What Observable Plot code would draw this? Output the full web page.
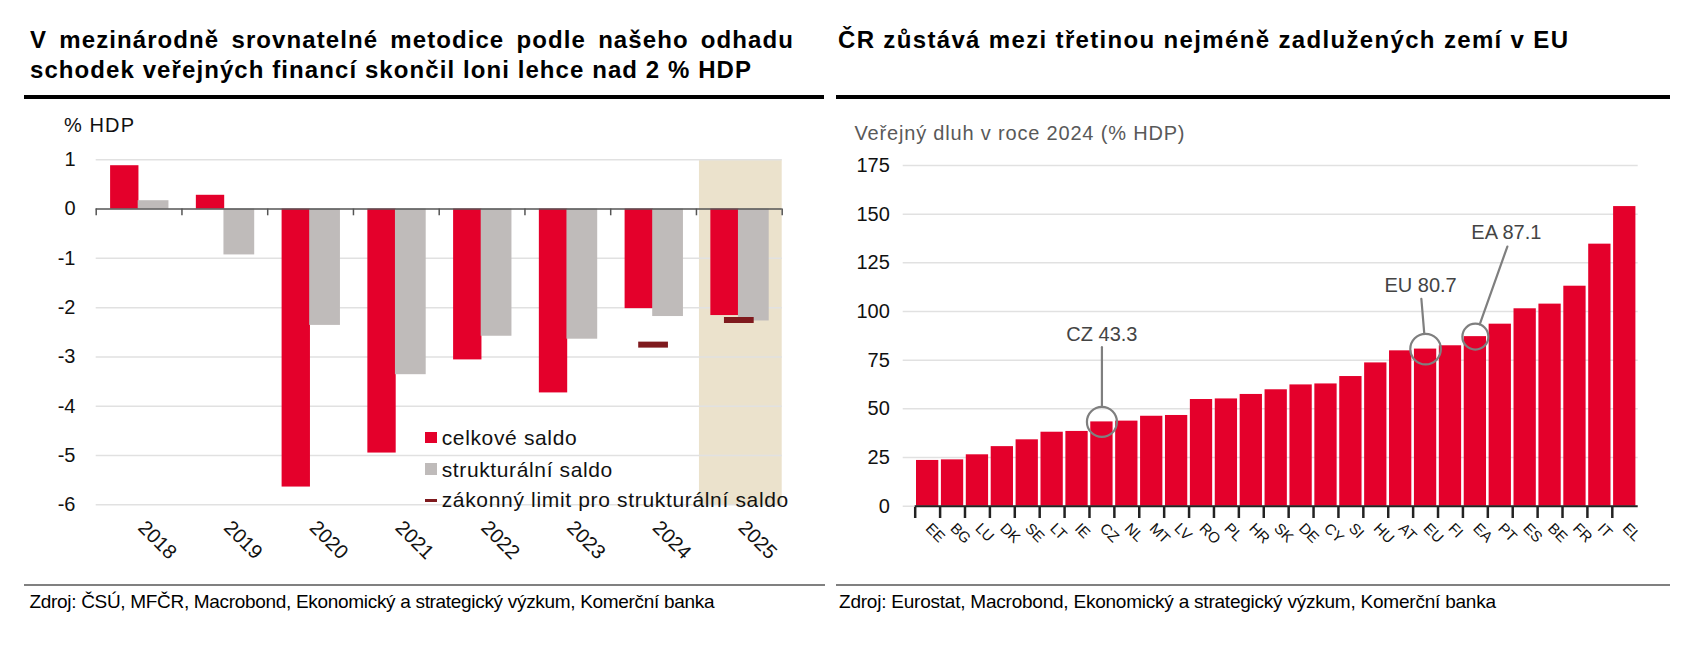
<!DOCTYPE html>
<html><head><meta charset="utf-8">
<script src="https://cdn.jsdelivr.net/npm/d3@7"></script>
<script src="https://cdn.jsdelivr.net/npm/@observablehq/plot@0.6"></script>
<style>
html,body{margin:0;padding:0;background:#fff}
body{position:relative;width:1682px;height:645px;overflow:hidden;font-family:"Liberation Sans",Arial,sans-serif;color:#111}
.t{position:absolute;white-space:nowrap;line-height:1}
.r{position:absolute}
</style></head><body>
<script>
// ---------- DATA: left chart ----------
const years = ["2018","2019","2020","2021","2022","2023","2024","2025"];
const celkoveSaldo = [0.88, 0.28, -5.64, -4.95, -3.06, -3.73, -2.02, -2.16];
const strukturalniSaldo = [0.17, -0.93, -2.36, -3.36, -2.58, -2.64, -2.18, -2.27];
const limitYears = ["2024","2025"];
const limitValues = [-2.75, -2.25];
const shadedYears = ["2025"];
const leftYTicks = [1, 0, -1, -2, -3, -4, -5, -6];

// ---------- DATA: right chart ----------
const countries = ["EE","BG","LU","DK","SE","LT","IE","CZ","NL","MT","LV","RO","PL","HR","SK","DE","CY","SI","HU","AT","EU","FI","EA","PT","ES","BE","FR","IT","EL"];
const debt = [23.5,23.8,26.4,30.6,34.1,38.0,38.4,43.3,43.7,46.2,46.6,54.8,55.1,57.4,59.8,62.3,62.8,66.6,73.6,79.8,80.7,82.4,87.1,93.5,101.4,103.8,113.0,134.6,153.9];
const highlightCodes = ["CZ","EU","EA"];
const rightYTicks = [0, 25, 50, 75, 100, 125, 150, 175];

// ---------- TEXTS ----------
const titleLeft1 = "V mezinárodně srovnatelné metodice podle našeho odhadu";
const titleLeft2 = "schodek veřejných financí skončil loni lehce nad 2 % HDP";
const titleRight = "ČR zůstává mezi třetinou nejméně zadlužených zemí v EU";
const unitLeft = "% HDP";
const unitRight = "Veřejný dluh v roce 2024 (% HDP)";
const legendLabels = ["celkové saldo", "strukturální saldo", "zákonný limit pro strukturální saldo"];
const sourceLeft = "Zdroj: ČSÚ, MFČR, Macrobond, Ekonomický a strategický výzkum, Komerční banka";
const sourceRight = "Zdroj: Eurostat, Macrobond, Ekonomický a strategický výzkum, Komerční banka";

// ---------- STYLE ----------
const RED = "#e4002b", GREY = "#bfbbba", DARKRED = "#7f1a1e", BEIGE = "#ebe2cc";
const GRID = "#e1e1e1", FONT = '"Liberation Sans", Arial, sans-serif';
const fmtNum = d => (d < 0 ? "-" : "") + Math.abs(d);

function addText(str, o) {
  const el = document.createElement("div");
  el.className = "t";
  el.textContent = str;
  el.style.fontSize = o.size + "px";
  el.style.fontWeight = o.weight || 400;
  el.style.color = o.color || "#111";
  el.style.left = o.x + "px";
  el.style.top = (o.baseline - 0.8465 * o.size) + "px";
  document.body.appendChild(el);
  if (o.width) {
    const w = el.getBoundingClientRect().width;
    el.style.letterSpacing = ((o.width - w) / Math.max(1, str.length - 1)) + "px";
  }
  return el;
}
function addBox(x, y, w, h, color) {
  const d = document.createElement("div");
  d.className = "r";
  Object.assign(d.style, {left: x + "px", top: y + "px", width: w + "px", height: h + "px", background: color});
  document.body.appendChild(d);
}

// ---------- header / footer ----------
const t2 = addText(titleLeft2, {x: 30, baseline: 78, size: 24, weight: 700, width: 721, color: "#000"});
const t1 = addText(titleLeft1, {x: 30, baseline: 48.3, size: 24, weight: 700, color: "#000"});
t1.style.letterSpacing = t2.style.letterSpacing;
{
  const w = t1.getBoundingClientRect().width;
  const spaces = titleLeft1.split(" ").length - 1;
  t1.style.wordSpacing = ((764 - w) / spaces) + "px";
}
addText(titleRight, {x: 838, baseline: 48.3, size: 24, weight: 700, width: 730, color: "#000"});
addBox(24, 94.5, 800, 4.5, "#000");
addBox(836, 94.5, 834, 4.5, "#000");
addBox(24, 584, 801, 2, "#808080");
addBox(836, 584, 834, 2, "#808080");
addText(sourceLeft, {x: 29.5, baseline: 608.3, size: 19, width: 685, color: "#000"});
addText(sourceRight, {x: 839, baseline: 608.3, size: 19, width: 657, color: "#000"});
addText(unitLeft, {x: 64, baseline: 131.7, size: 20, width: 70, color: "#111"});
addText(unitRight, {x: 854.5, baseline: 139.5, size: 20, width: 330, color: "#595959"});

// ---------- left chart ----------
const leftRows = years.map((year, i) => ({year, celk: celkoveSaldo[i], strukt: strukturalniSaldo[i]}));
const limitRows = limitYears.map((year, i) => ({year, value: limitValues[i]}));
const yMinL = d3.min(leftYTicks), yMaxL = d3.max(leftYTicks);
const LW = 841, LH = 480, lm = {top: 59.3, right: 59.3, bottom: 75.7, left: 95.7};
const stepL = (LW - lm.left - lm.right) / years.length;
const pxL = (LH - lm.top - lm.bottom) / (yMaxL - yMinL);
const tickL = 6.7 / pxL;

const leftPlot = Plot.plot({
  width: LW, height: LH,
  marginTop: lm.top, marginRight: lm.right, marginBottom: lm.bottom, marginLeft: lm.left,
  style: {fontFamily: FONT, fontSize: "20px", color: "#111", background: "transparent"},
  x: {type: "band", domain: years, padding: 0, round: false, axis: null, label: null},
  y: {domain: [yMinL, yMaxL], label: null},
  marks: [
    Plot.barY(shadedYears, {x: d => d, y1: yMinL, y2: yMaxL, fill: BEIGE, insetLeft: 3}),
    Plot.ruleY(leftYTicks.filter(v => v !== 0), {stroke: GRID, strokeWidth: 1.5}),
    Plot.barY(leftRows, {x: "year", y: "celk", fill: RED, insetLeft: 14.4, insetRight: 43}),
    Plot.barY(leftRows, {x: "year", y: "strukt", fill: GREY, insetLeft: 42, insetRight: 13}),
    Plot.tickY(limitRows, {x: "year", y: "value", stroke: DARKRED, strokeWidth: 6, insetLeft: 28, insetRight: 28}),
    Plot.ruleY([0], {stroke: "#555", strokeWidth: 1.5}),
    Plot.ruleX(years, {x: d => d, dx: -stepL / 2, y1: 0, y2: -tickL, stroke: "#555", strokeWidth: 1.5}),
    Plot.ruleX(years.slice(-1), {x: d => d, dx: stepL / 2, y1: 0, y2: -tickL, stroke: "#555", strokeWidth: 1.5}),
    Plot.axisY({ticks: leftYTicks, tickFormat: fmtNum, tickSize: 0, tickPadding: 20.7, fontSize: 20, label: null}),
    Plot.text(years, {x: d => d, frameAnchor: "bottom", rotate: 45, textAnchor: "start", dy: 24, dx: -2, fontSize: 20, fill: "#111"})
  ]
});
const lc = document.createElement("div");
lc.className = "r"; lc.style.left = "0px"; lc.style.top = "100px";
lc.appendChild(leftPlot);
document.body.appendChild(lc);

// legend (left chart)
addBox(425, 431.7, 11.7, 11.7, RED);
addBox(425, 463, 11.7, 11.7, GREY);
addBox(425, 499, 11.7, 3, DARKRED);
addText(legendLabels[0], {x: 441.7, baseline: 445, size: 21, width: 135, color: "#111"});
addText(legendLabels[1], {x: 441.7, baseline: 476.7, size: 21, width: 170.6, color: "#111"});
addText(legendLabels[2], {x: 441.7, baseline: 507, size: 21, width: 346.6, color: "#111"});

// ---------- right chart ----------
const debtRows = countries.map((code, i) => ({code, value: debt[i]}));
const yMinR = d3.min(rightYTicks), yMaxR = d3.max(rightYTicks);
const RW = 841, RH = 480, rm = {top: 65, right: 44.3, bottom: 74.3, left: 61.7};
const xInsetL = 12, xInsetR = 1;
const stepR = (RW - rm.left - rm.right - xInsetL - xInsetR) / countries.length;
const pxR = (RH - rm.top - rm.bottom) / (yMaxR - yMinR);

// annotation layout (pixels), separate from data
const annotLayout = {
  CZ: {r: 15, length: 74.7, angle: 0, dx: 0, dy: -87.4},
  EU: {r: 15.3, length: 50.5, angle: -4.8, dx: -5, dy: -63.6},
  EA: {r: 13, length: 95.6, angle: 19.55, dx: 31, dy: -104.4}
};
const leader = {draw(context, l, r) { context.moveTo(0, -r); context.lineTo(0, -l); }};
const annotMarks = highlightCodes.flatMap(code => {
  const row = debtRows.filter(d => d.code === code);
  const a = annotLayout[code];
  return [
    Plot.dot(row, {x: "code", y: "value", r: a.r, stroke: "#7f7f7f", strokeWidth: 2.2, fill: "none"}),
    Plot.vector(row, {x: "code", y: "value", length: a.length, rotate: a.angle, r: a.r, anchor: "start", shape: leader, stroke: "#7f7f7f", strokeWidth: 2.2}),
    Plot.text(row, {x: "code", y: "value", text: d => `${d.code} ${d.value}`, dx: a.dx, dy: a.dy, fontSize: 20, fill: "#444"})
  ];
});

const rightPlot = Plot.plot({
  width: RW, height: RH,
  marginTop: rm.top, marginRight: rm.right, marginBottom: rm.bottom, marginLeft: rm.left,
  style: {fontFamily: FONT, fontSize: "20px", color: "#111", background: "transparent"},
  x: {type: "band", domain: countries, padding: 0, round: false, insetLeft: xInsetL, insetRight: xInsetR, axis: null, label: null},
  y: {domain: [yMinR, yMaxR], label: null},
  marks: [
    Plot.ruleY(rightYTicks, {stroke: GRID, strokeWidth: 1.5}),
    Plot.barY(debtRows, {x: "code", y: "value", fill: RED, insetLeft: 1.3, insetRight: 1.3}),
    Plot.ruleY([0], {insetLeft: xInsetL, stroke: "#222", strokeWidth: 2}),
    Plot.ruleX(countries, {x: d => d, dx: -stepR / 2, y1: -1.3 / pxR, y2: -12.3 / pxR, stroke: "#222", strokeWidth: 2.5}),
    Plot.axisY({ticks: rightYTicks, tickSize: 0, tickPadding: 13.4, fontSize: 20, label: null}),
    Plot.text(countries, {x: d => d, frameAnchor: "bottom", rotate: 45, textAnchor: "start", dy: 23, dx: -3, fontSize: 15, fill: "#111"}),
    ...annotMarks
  ]
});
const rc = document.createElement("div");
rc.className = "r"; rc.style.left = "841px"; rc.style.top = "100px";
rc.appendChild(rightPlot);
document.body.appendChild(rc);
</script>
</body></html>
